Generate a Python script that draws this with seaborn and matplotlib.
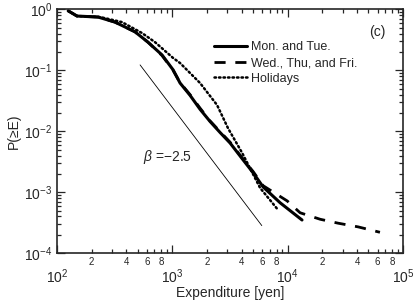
import numpy as np
import pandas as pd
import matplotlib
matplotlib.use("Agg")
import matplotlib.pyplot as plt
import matplotlib.ticker as mticker
import seaborn as sns

# data (expenditure in yen, CCDF)
mon_E = [125, 149, 227, 318, 474, 615, 814, 1015, 1166, 1423, 1738, 2122, 2600,
         3170, 4100, 5000, 6120, 8600, 13300]
mon_P = [0.95, 0.78, 0.75, 0.62, 0.43, 0.29, 0.179, 0.102, 0.062, 0.039, 0.023,
         0.0145, 0.0095, 0.0064, 0.0034, 0.0021, 0.00122, 0.00067, 0.00035]

wed_E = [125, 149, 227, 318, 474, 615, 814, 1015, 1166, 1423, 1738, 2122, 2600,
         3170, 4100, 5000, 6120, 9890, 12800, 19100, 27400, 40700, 63000]
wed_P = [0.95, 0.78, 0.75, 0.62, 0.43, 0.29, 0.175, 0.100, 0.063, 0.040, 0.024,
         0.0148, 0.0098, 0.0066, 0.0035, 0.0022, 0.00128, 0.00072, 0.00046,
         0.00036, 0.00031, 0.00027, 0.00022]

hol_E = [125, 149, 237, 366, 546, 708, 1014, 1166, 1738, 2440, 3040, 4030, 5770,
         7040, 8260]
hol_P = [0.95, 0.78, 0.75, 0.62, 0.41, 0.29, 0.16, 0.132, 0.062, 0.027, 0.0112,
         0.0044, 0.00117, 0.00074, 0.00051]

labels = ["Mon. and Tue.", "Wed., Thu, and Fri.", "Holidays"]

# guide line with slope beta
beta = -2.5
ref_E = np.array([525, 5960])
ref_P0 = 0.123
ref_P = ref_P0 * (ref_E / ref_E[0]) ** beta

sns.set_style("ticks")
plt.rcParams["font.family"] = ["Liberation Sans", "DejaVu Sans"]
plt.rcParams["mathtext.fontset"] = "custom"
plt.rcParams["mathtext.rm"] = "Liberation Sans"
plt.rcParams["mathtext.it"] = "Liberation Sans:italic"

fig = plt.figure(figsize=(4.16, 3.05), dpi=100)
ax = fig.add_axes([0.137, 0.170, 0.832, 0.799])

sns.lineplot(x=mon_E, y=mon_P, ax=ax, color="black", lw=2.2, sort=False,
             estimator=None, label=labels[0])
sns.lineplot(x=wed_E, y=wed_P, ax=ax, color="black", lw=2.0, sort=False,
             estimator=None, label=labels[1])
ax.lines[-1].set_dashes([4, 3.5])
sns.lineplot(x=hol_E, y=hol_P, ax=ax, color="black", lw=1.8, sort=False,
             estimator=None, label=labels[2])
ax.lines[-1].set_linestyle((0, (0.6, 1.2)))
ax.lines[-1].set_dash_capstyle("round")
sns.lineplot(x=ref_E, y=ref_P, ax=ax, color="black", lw=0.6, estimator=None)

ax.set_xscale("log")
ax.set_yscale("log")
ax.set_xlim(1e2, 1e5)
ax.set_ylim(1e-4, 1)

ax.xaxis.set_major_locator(mticker.FixedLocator([1e2, 1e3, 1e4, 1e5]))
ax.xaxis.set_major_formatter(mticker.FixedFormatter(["$10^{2}$", "$10^{3}$", "$10^{4}$", "$10^{5}$"]))
minor_x = [m * 10 ** d for d in (2, 3, 4) for m in range(2, 10)]
ax.xaxis.set_minor_locator(mticker.FixedLocator(minor_x))


def minor_label(v, pos):
    m = int(round(v / 10 ** np.floor(np.log10(v) + 1e-9)))
    return str(m) if m in (2, 4, 6, 8) else ""


ax.xaxis.set_minor_formatter(mticker.FuncFormatter(minor_label))
ax.yaxis.set_major_locator(mticker.FixedLocator([1e-4, 1e-3, 1e-2, 1e-1, 1]))
ax.yaxis.set_major_formatter(mticker.FixedFormatter(
    ["$10^{-4}$", "$10^{-3}$", "$10^{-2}$", "$10^{-1}$", "$10^{0}$"]))
ax.yaxis.set_minor_locator(mticker.LogLocator(base=10, subs=np.arange(2, 10), numticks=20))
ax.yaxis.set_minor_formatter(mticker.NullFormatter())

ax.tick_params(which="both", direction="in", top=True, right=True, width=0.9)
ax.tick_params(which="major", length=6, labelsize=10)
ax.tick_params(axis="x", which="major", pad=10)
ax.tick_params(axis="x", which="minor", length=3, labelsize=7, pad=3)
ax.tick_params(axis="y", which="minor", length=3)
for s in ax.spines.values():
    s.set_linewidth(1.2)

ax.set_xlabel("Expenditure [yen]", fontsize=10, labelpad=0)
ax.set_ylabel("P(≥E)", fontsize=10, labelpad=2)

ax.text(0.925, 0.908, "(c)", transform=ax.transAxes, ha="center", va="center", fontsize=10)
ax.text(0.249, 0.394, r"$\mathit{\beta}$ =−2.5", transform=ax.transAxes, ha="left",
        va="center", fontsize=10)

ax.legend(loc="upper left", bbox_to_anchor=(0.44, 0.89), frameon=False, fontsize=9,
          handlelength=2.6, handletextpad=0.3, labelspacing=0.3, borderaxespad=0)

fig.savefig("out.png", dpi=100)
